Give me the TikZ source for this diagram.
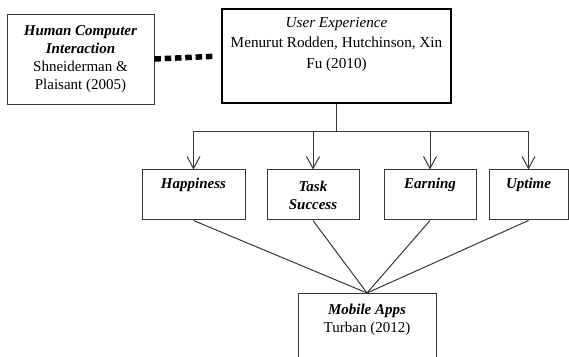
\documentclass[tikz,border=0pt]{standalone}
\usepackage{fontspec}
\setmainfont{Liberation Serif}
\usetikzlibrary{arrows.meta}
\definecolor{linegray}{RGB}{55,55,55}

\begin{document}
\begin{tikzpicture}[x=1pt,y=1pt,
        box/.style={draw=linegray,line width=1pt,inner sep=0pt,align=center,font=\fontsize{15}{18}\selectfont},
        link/.style={draw=linegray,line width=1pt},
        arrow/.style={link,-{Straight Barb[length=12pt,width=13pt]}}]
        \useasboundingbox (0,0) rectangle (569,356);

        % Top row: theory boxes
        \node[box,line width=0.8pt,minimum width=147,minimum height=90] (hci) at (80.5,297) {%
            \textbf{\textit{Human Computer}}\\ \textbf{\textit{Interaction}}\\ Shneiderman \&\\ Plaisant (2005)};
        \node[box,draw=black,line width=2.5pt,minimum width=229,minimum height=94,font=\fontsize{15.2}{20.5}\selectfont] (ux) at (336.5,300) {%
            \textit{User Experience}\\ Menurut Rodden, Hutchinson, Xin\\ Fu (2010)\\ \strut};

        % Dotted link between the theories
        \draw[black,line width=5.5pt,dash pattern=on 6.5pt off 3.8pt,shorten >=7pt] (hci.east) -- (ux.west);

        % Middle row: HEART metrics
        \node[box,minimum width=103,minimum height=50] (happy) at (193.5,161) {\textbf{\textit{Happiness}}\\ \strut};
        \node[box,minimum width=92,minimum height=50] (task) at (313,161) {\textbf{\textit{Task}}\\ \textbf{\textit{Success}}};
        \node[box,minimum width=92,minimum height=50] (earn) at (430,161) {\textbf{\textit{Earning}}\\ \strut};
        \node[box,minimum width=79,minimum height=50] (uptime) at (528.5,161) {\textbf{\textit{Uptime}}\\ \strut};

        % Bottom: object of study
        \node[box,minimum width=138,minimum height=90,anchor=north] (apps) at (367,63) {%
            \textbf{\textit{Mobile Apps}}\\ Turban (2012)\\ \strut\\ \strut};

        % Branching bus from User Experience
        \coordinate (bus) at (0,224.5);
        \draw[link] (ux.south) -- (ux.south |- bus);
        \draw[link] (happy.north |- bus) -- (uptime.north |- bus);
        \foreach \n in {happy,task,earn,uptime} {
            \draw[arrow] (\n.north |- bus) -- (\n.north);
            \draw[link] (\n.south) -- (apps.north);
        }
    \end{tikzpicture}
\end{document}
